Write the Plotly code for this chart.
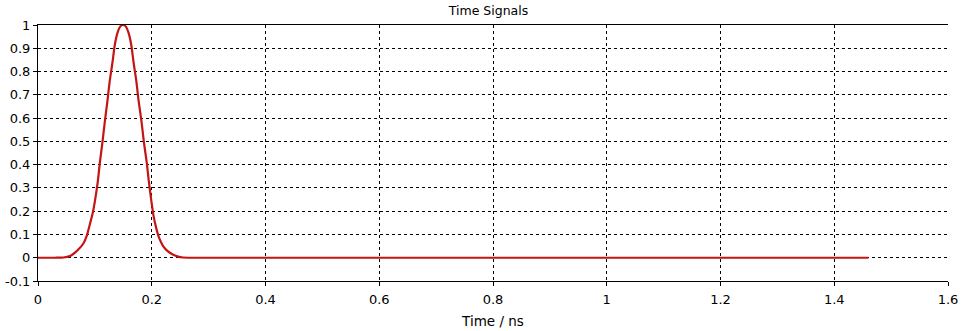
import plotly.graph_objects as go

# Time (ns) and signal amplitude
time_ns = [0.0, 0.03, 0.045, 0.055, 0.062, 0.070, 0.0795, 0.086, 0.091, 0.096, 0.100, 0.105,
           0.109, 0.1135, 0.1175, 0.122, 0.126, 0.131, 0.135, 0.140, 0.1445, 0.1495,
           0.1545, 0.159, 0.164, 0.168, 0.173, 0.177, 0.182, 0.186, 0.191, 0.195,
           0.1995, 0.203, 0.208, 0.213, 0.220, 0.228, 0.237, 0.245, 0.255, 0.30, 0.60,
           1.00, 1.46]
signal = [0.0, 0.0, 0.001, 0.006, 0.016, 0.033, 0.060, 0.096, 0.142, 0.190, 0.242, 0.325,
          0.413, 0.500, 0.585, 0.672, 0.757, 0.840, 0.914, 0.968, 0.993, 1.0,
          0.993, 0.968, 0.914, 0.840, 0.757, 0.672, 0.585, 0.500, 0.413, 0.325,
          0.240, 0.182, 0.126, 0.085, 0.050, 0.028, 0.014, 0.006, 0.001, 0.0, 0.0,
          0.0, 0.0]

x_ticks = [0, 0.2, 0.4, 0.6, 0.8, 1.0, 1.2, 1.4, 1.6]
x_labels = ["0", "0.2", "0.4", "0.6", "0.8", "1", "1.2", "1.4", "1.6"]
y_ticks = [-0.1, 0, 0.1, 0.2, 0.3, 0.4, 0.5, 0.6, 0.7, 0.8, 0.9, 1.0]
y_labels = ["-0.1", "0", "0.1", "0.2", "0.3", "0.4", "0.5", "0.6", "0.7", "0.8", "0.9", "1"]

FAM = "DejaVu Sans, Verdana, sans-serif"
tick_font = dict(family=FAM, size=13, color="black")

fig = go.Figure()
fig.add_trace(go.Scatter(
    x=time_ns, y=signal, mode="lines",
    line=dict(color="#C41414", width=2.2, shape="spline", smoothing=0.6),
    showlegend=False, hoverinfo="x+y",
))

fig.update_layout(
    width=977, height=331,
    margin=dict(l=38, r=29, t=25, b=50, autoexpand=False),
    paper_bgcolor="white", plot_bgcolor="white",
    font=tick_font,
    title=dict(text="Time Signals", x=0.5, xanchor="center", y=0.98, yanchor="top",
               font=dict(family=FAM, size=12.5, color="black")),
)
fig.update_xaxes(
    range=[0, 1.6], tickvals=x_ticks, ticktext=x_labels,
    showgrid=True, gridcolor="black", gridwidth=1, griddash="3px,3px",
    showline=True, linecolor="black", linewidth=1, mirror=True,
    ticks="outside", ticklen=4, tickcolor="black", ticklabelstandoff=2,
    zeroline=False, automargin=False,
    title=dict(text="Time / ns", standoff=10, font=dict(family=FAM, size=13.5, color="black")),
    tickfont=tick_font,
)
fig.update_yaxes(
    range=[-0.1, 1.0], tickvals=y_ticks, ticktext=y_labels,
    showgrid=True, gridcolor="black", gridwidth=1, griddash="3px,3px",
    showline=True, linecolor="black", linewidth=1,
    ticks="outside", ticklen=4, tickcolor="black",
    zeroline=False, tickfont=tick_font, automargin=False,
)

fig.write_html("out.html")
